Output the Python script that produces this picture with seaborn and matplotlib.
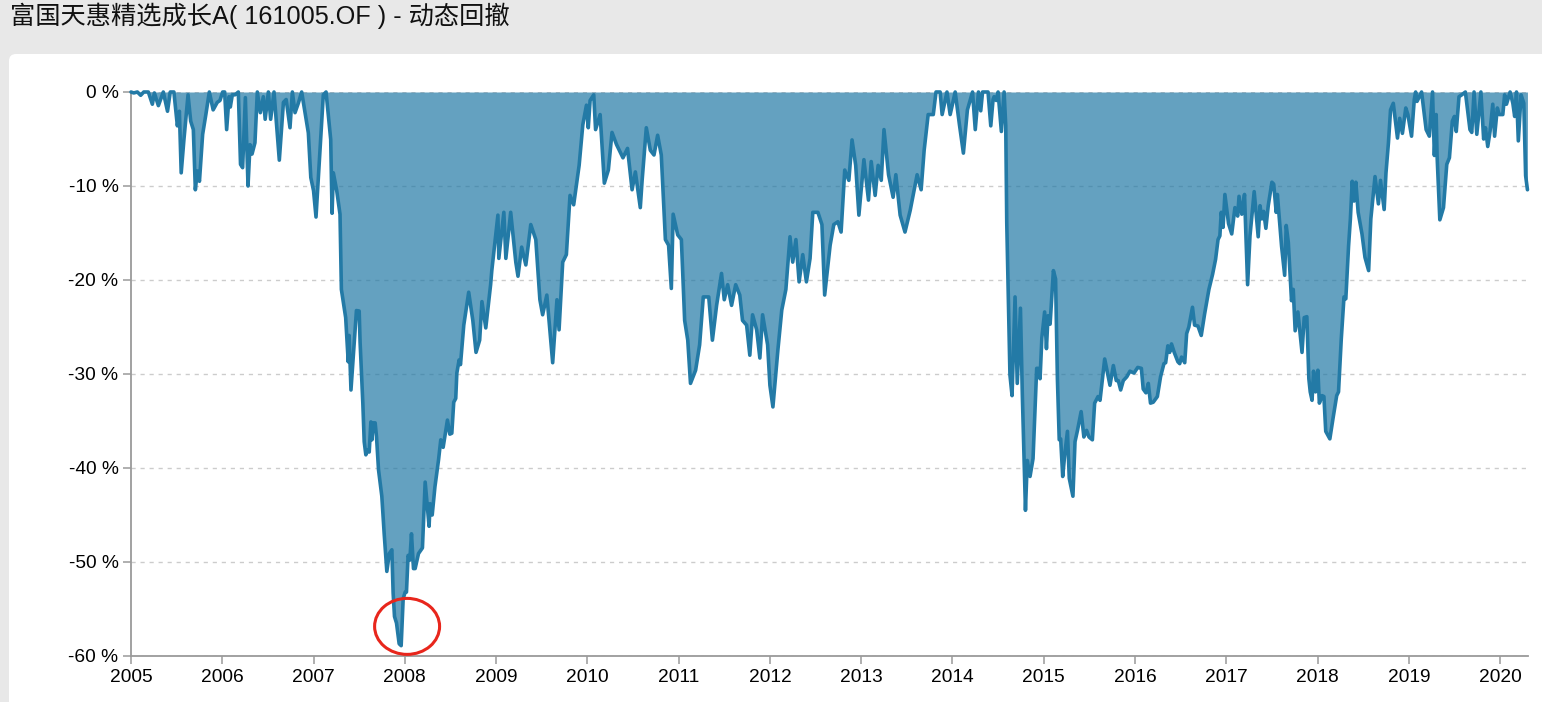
import numpy as np
import pandas as pd
import matplotlib
matplotlib.use("Agg")
import matplotlib.pyplot as plt
import seaborn as sns
from matplotlib.patches import FancyBboxPatch, Ellipse

TITLE = "富国天惠精选成长A( 161005.OF ) - 动态回撤"
tick_years = list(range(2005, 2021))
tick_pct = [0, -10, -20, -30, -40, -50, -60]

t2005 = [0,.03,.07,.106,.14,.19,.234,.256,.30,.354,.40,.43,.47,.508,.53,.55,.58,.625,.654,.683,.705,.727,.75,.785,.82,.858,.90,.945,.975]
v2005 = [0,-.1,0,-.35,0,0,-1.3,-.1,-1.45,0,-2.05,0,0,-3.6,-2.05,-8.6,-5.05,-.3,-3.1,-4,-10.4,-8.4,-9.5,-4.5,-2.4,0,-1.9,-1.1,-.9]
t2006 = [.004,.026,.048,.074,.088,.11,.14,.176,.20,.223,.253,.282,.304,.326,.358,.384,.417,.45,.47,.505,.53,.567,.625,.67,.70,.742,.768,.797,.833,.87,.943,.97]
v2006 = [0,0,-4,-.5,-1.6,-.3,-.3,0,-7.7,-8.05,-.6,-10,-5.6,-6.6,-5.4,0,-2.2,-.5,-2.9,0,-2.9,0,-7.25,-1.1,-.8,-3.8,0,-2.2,-1.2,0,-4.35,-9.1]
t2007 = [0,.027,.064,.107,.137,.188,.203,.217,.254,.29,.305,.352,.38,.39,.41,.47,.5,.51,.525,.54,.555,.573,.59,.61,.628,.64,.653,.675,.69,.712,.748,.774,.803,.83,.858,.872,.887,.909,.938,.96,.982]
v2007 = [-10.5,-13.3,-7.2,-.3,0,-5.05,-12.9,-8.6,-10.5,-13,-21,-24,-28.7,-25.9,-31.7,-23.25,-23.3,-26.6,-29.8,-33.1,-37.2,-38.6,-38.1,-38.3,-35.1,-37,-35.2,-35.2,-36.7,-40.2,-43,-47,-51,-49.1,-48.7,-53.3,-55.8,-56.5,-58.7,-58.9,-53.9]
t2008 = [.004,.018,.036,.055,.073,.095,.113,.15,.193,.223,.266,.277,.30,.33,.37,.394,.42,.467,.493,.515,.536,.558,.57,.595,.61,.646,.70,.745,.78,.82,.845,.887,.94,.953]
v2008 = [-53.2,-53.2,-49.3,-49.8,-47,-50.7,-50.7,-49.1,-48.5,-41.5,-46.2,-43.8,-45,-42,-39.1,-37,-37.8,-34.9,-36.4,-36.3,-33,-32.6,-29.9,-28.5,-29,-24.8,-21.3,-24.3,-27.7,-26.4,-22.3,-25.1,-20.5,-19]
t2009 = [.02,.03,.085,.107,.16,.216,.24,.28,.326,.38,.435,.48,.51,.556,.58,.62,.667,.69,.73,.77,.81,.85,.91,.95,.99]
v2009 = [-13.1,-17.7,-12.8,-17.7,-12.8,-18.1,-19.6,-16.5,-18.4,-14.1,-15.7,-22.1,-23.7,-21.6,-24.3,-28.8,-22.1,-25.3,-18.1,-17.3,-11,-12,-7.8,-3.5,-1.4]
t2010 = [.01,.03,.07,.09,.14,.186,.23,.27,.32,.39,.44,.49,.526,.58,.6,.646,.69,.73,.77,.81,.855,.89,.92,.94,.99]
v2010 = [-3.8,-.9,-.3,-4,-2.4,-9.7,-8.3,-4.3,-5.6,-7,-6,-10.4,-8.5,-12.3,-9.4,-3.8,-6.2,-6.7,-4.6,-6.7,-15.7,-16.3,-20.9,-13,-15.2]
t2011 = [.03,.066,.1,.13,.186,.23,.27,.33,.37,.416,.47,.5,.537,.58,.625,.67,.70,.745,.78,.81,.855,.89,.92,.975]
v2011 = [-15.7,-24.3,-26.4,-31,-29.6,-26.9,-21.8,-21.8,-26.4,-22.7,-19.3,-22.1,-20.5,-22.7,-20.5,-21.6,-24.3,-24.8,-28,-23.7,-25.3,-28.3,-23.7,-26.9]
t2012 = [0,.033,.088,.13,.175,.22,.25,.285,.32,.36,.4,.44,.47,.526,.57,.6,.66,.70,.745,.78,.82,.865,.9,.94,.975]
v2012 = [-31.2,-33.5,-27.4,-23.2,-21,-15.4,-18.1,-15.7,-20.2,-17.3,-20.2,-17.7,-12.8,-12.8,-14.1,-21.6,-16.3,-14.1,-13.8,-14.9,-8.3,-9.4,-5.1,-7.8,-13.1]
t2013 = [.03,.08,.11,.153,.186,.22,.25,.3,.35,.38,.427,.48,.537,.613,.657,.69,.734,.79,.82,.865,.887,.94,.975]
v2013 = [-7.2,-11.5,-7.4,-11,-7.8,-9.4,-4,-8.8,-11.2,-8.8,-13.1,-14.9,-12.6,-8.8,-10.4,-6.2,-2.4,-2.4,0,0,-2.4,0,-2.4]
t2014 = [.03,.077,.12,.164,.22,.25,.285,.31,.33,.39,.42,.445,.456,.48,.5,.536,.566,.584,.595,.61,.63,.653,.686,.71,.745,.766,.80,.82,.85,.883,.923,.94,.96,.98]
v2014 = [0,-3.5,-6.5,-1.9,0,-4,0,-2,0,0,-3.6,-.8,-.5,-.9,0,-4.2,0,-3.6,-13.9,-21,-30.1,-32.3,-21.8,-31,-23,-32.3,-44.5,-39.2,-40.9,-39,-29.4,-29.4,-30.5,-26.1]
t2015 = [.01,.03,.047,.07,.106,.13,.15,.17,.186,.208,.23,.26,.28,.32,.343,.37,.39,.41,.44,.47,.496,.533,.558,.595,.617,.668,.726,.763,.795,.817,.843,.872,.91,.945,.989]
v2015 = [-23.4,-27.3,-23.8,-24.7,-19,-19.9,-30.5,-37,-36.9,-40.9,-38.6,-36.1,-41.1,-43,-37.2,-36,-35,-34,-36.7,-36,-36.7,-37,-33.1,-32.4,-32.8,-28.4,-31.2,-29.1,-30.7,-30.7,-31.7,-30.7,-30.3,-29.7,-29.9]
t2016 = [.03,.07,.09,.12,.146,.17,.2,.245,.28,.317,.336,.36,.38,.40,.43,.47,.49,.51,.545,.566,.59,.63,.653,.69,.726,.763,.81,.85,.883,.91,.93,.945,.965,.985]
v2016 = [-29.3,-29.4,-31.6,-32,-31,-33.1,-33,-32.4,-30.3,-28.9,-28.8,-27,-27.7,-26.8,-27.7,-28.7,-28.9,-28.2,-28.8,-25.7,-25,-22.9,-24.8,-24.9,-25.9,-23.6,-21,-19.4,-17.8,-15.7,-15.3,-12.8,-14.4,-10.9]
t2017 = [.025,.06,.095,.125,.14,.17,.2,.234,.26,.306,.35,.37,.39,.41,.434,.46,.5,.52,.547,.56,.606,.64,.657,.68,.715,.734,.755,.785,.83,.854,.883,.905,.92,.94,.956,.978]
v2017 = [-14,-15.1,-12.3,-13.2,-11.1,-13,-10.9,-20.5,-15.3,-10.6,-15.4,-12.1,-13.5,-12.7,-14.5,-12.1,-9.6,-9.8,-12.8,-10.9,-16.4,-19.5,-14.2,-16,-22.2,-21,-25.4,-23.4,-27.7,-24,-23.9,-30.5,-31.9,-32.8,-29.7,-31.9]
t2018 = [.004,.02,.05,.07,.09,.135,.17,.21,.23,.26,.29,.31,.34,.36,.38,.4,.42,.445,.487,.52,.56,.584,.63,.667,.69,.73,.75,.777,.8,.83,.876,.9,.93,.967,.99]
v2018 = [-29.6,-33.1,-32.3,-32.4,-36.1,-36.9,-34.7,-32.3,-31.9,-26.3,-21.8,-22,-16.4,-13.5,-9.5,-11.6,-9.6,-12.8,-15.1,-17.6,-19,-13.5,-9,-11.9,-9.4,-12.5,-8.6,-5.4,-1.9,-1.2,-4.9,-2.8,-4.4,-1.7,-2.4]
t2019 = [.03,.06,.075,.09,.14,.19,.225,.26,.28,.3,.31,.34,.38,.416,.445,.477,.5,.52,.55,.58,.62,.67,.69,.715,.745,.79,.82,.84,.865,.89,.92,.94,.97,.99]
v2019 = [-4.7,-.8,0,-1,0,-4,-4.7,0,-6.75,-2.4,-6.8,-13.6,-12.3,-7.7,-7,-3.1,-2.6,-4.2,-.5,-.3,0,-4,-4.3,0,-4.5,0,-5,-3.8,-5.8,-4.2,-1.3,-4.7,-1.7,-2.4]
t2020 = [.03,.05,.07,.11,.14,.16,.18,.2,.23,.26,.28,.3]
v2020 = [-2.4,-.3,-1.3,0,-1.2,-2.6,0,-5.2,-.3,-1.2,-8.9,-10.4]

seg_t = [t2005,t2006,t2007,t2008,t2009,t2010,t2011,t2012,t2013,t2014,t2015,t2016,t2017,t2018,t2019,t2020]
seg_v = [v2005,v2006,v2007,v2008,v2009,v2010,v2011,v2012,v2013,v2014,v2015,v2016,v2017,v2018,v2019,v2020]
df = pd.DataFrame({
    "year": np.concatenate([np.array(t) + y for t, y in zip(seg_t, tick_years)]),
    "drawdown": np.concatenate(seg_v),
})

W, H = 1542, 702
sns.set_theme(style="white")
plt.rcParams["font.family"] = ["Liberation Sans", "Noto Sans CJK SC", "DejaVu Sans"]

fig = plt.figure(figsize=(W / 100, H / 100), dpi=100, facecolor="#e8e8e8")

bg = fig.add_axes([0, 0, 1, 1], zorder=0)
bg.set_xlim(0, W); bg.set_ylim(H, 0); bg.axis("off")
bg.add_patch(FancyBboxPatch((9, 54), W + 40, H + 40,
                            boxstyle="round,pad=0,rounding_size=7",
                            fc="white", ec="none", lw=0))
bg.text(10, 16, TITLE, fontsize=18.2, color="#111111", va="center", ha="left")

ax = fig.add_axes([131 / W, 1 - 656 / H, (1528 - 131) / W, (656 - 92) / H], zorder=1)
ax.patch.set_alpha(0)
ax.set_axisbelow(True)
ax.yaxis.grid(True, color="#cccccc", lw=1.0, linestyle=(0, (3, 3.5)))
ax.xaxis.grid(False)

ax.fill_between(df["year"], df["drawdown"], 0, color="#1f77a4", alpha=0.69, lw=0, zorder=2)
sns.lineplot(data=df, x="year", y="drawdown", ax=ax, estimator=None, sort=False,
             color="#237aa6", lw=2.6, zorder=3, clip_on=False, solid_joinstyle="round",
             legend=False)

ax.add_patch(Ellipse((2008.025, -56.85), 65 / 91.3, 56 / 9.4, fc="none",
                     ec="#e8261c", lw=2.2, zorder=4, clip_on=False))

ax.set_xlim(2005, 2020.306)
ax.set_ylim(-60, 0)
ax.set_xticks(tick_years)
ax.set_yticks(tick_pct)
ax.set_xticklabels([str(y) for y in tick_years])
ax.set_yticklabels([f"{p} %" for p in tick_pct])
ax.set_xlabel(""); ax.set_ylabel("")
for s in ("top", "right"):
    ax.spines[s].set_visible(False)
for s in ("left", "bottom"):
    ax.spines[s].set_color("#9a9a9a")
    ax.spines[s].set_linewidth(1.3)
ax.tick_params(axis="both", which="major", length=6, width=1.1, color="#9a9a9a",
               labelcolor="#000000", labelsize=13.8, pad=3, left=True, bottom=True)

fig.savefig("out.png", dpi=100, facecolor=fig.get_facecolor())
